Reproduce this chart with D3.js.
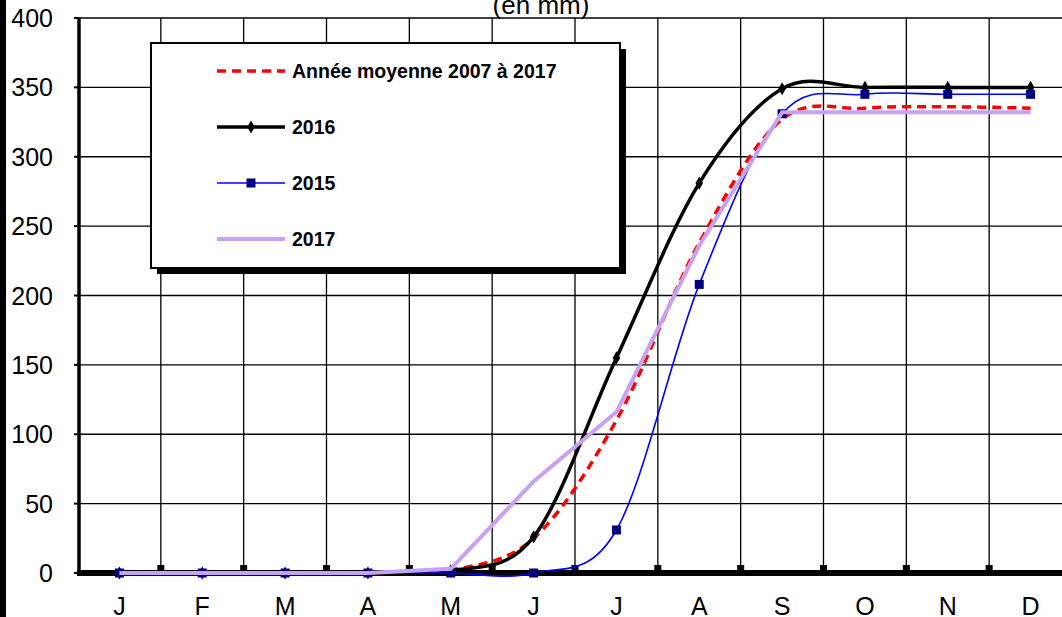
<!DOCTYPE html>
<html>
<head>
<meta charset="utf-8">
<script src="https://cdn.jsdelivr.net/npm/d3@7"></script>
<style>
body { margin: 0; background: #fff; }
svg { display: block; font-family: "Liberation Sans", Arial, sans-serif; }
</style>
</head>
<body>
<div id="chart"></div>
<script>
// valeurs (cumul en mm)
var mois = ["J", "F", "M", "A", "M", "J", "J", "A", "S", "O", "N", "D"];
var moyenne = [0, 0, 0, 0, 2, 25, 110, 238, 327, 335, 336, 335];
var annee2016 = [0, 0, 0, 0, 1.5, 26, 155, 281, 349, 350, 350, 350];
var annee2015 = [0, 0, 0, 0, 0, 0, 31, 208, 331, 345, 345, 345];
var annee2017 = [0, 0, 0, 0, 3, 66, 116, 236, 332, 332, 332, 332];
var yTicks = [0, 50, 100, 150, 200, 250, 300, 350, 400];
var legendLabels = ["Année moyenne 2007 à 2017", "2016", "2015", "2017"];

var width = 1062, height = 617;

var svg = d3.select("#chart").append("svg")
    .attr("width", width)
    .attr("height", height);

var x = d3.scaleBand().domain(d3.range(mois.length)).range([78, 1072]);
var y = d3.scaleLinear().domain([0, 400]).range([573, 18]);
var cx = function(i) { return x(i) + x.bandwidth() / 2; };

// barre noire a gauche
svg.append("rect").attr("x", 0).attr("y", 0).attr("width", 6).attr("height", height).attr("fill", "#000");

// titre coupe en haut
svg.append("text")
    .attr("x", 541).attr("y", 14)
    .attr("text-anchor", "middle")
    .attr("font-size", "26px")
    .text("(en mm)");

// grille
var grid = svg.append("g");
grid.selectAll("line.h")
    .data(yTicks.filter(function(d) { return d > 0; }))
    .enter().append("line")
    .attr("x1", 78).attr("x2", width)
    .attr("y1", function(d) { return y(d); })
    .attr("y2", function(d) { return y(d); })
    .attr("stroke", "#000").attr("stroke-width", 1.3);
grid.selectAll("line.v")
    .data(d3.range(1, mois.length))
    .enter().append("line")
    .attr("x1", function(i) { return x(i); })
    .attr("x2", function(i) { return x(i); })
    .attr("y1", y(400)).attr("y2", y(0))
    .attr("stroke", "#000").attr("stroke-width", 1.3);

// petits traits de graduation
grid.selectAll("rect.tx")
    .data(d3.range(1, mois.length))
    .enter().append("rect")
    .attr("x", function(i) { return x(i) - 3.5; })
    .attr("y", y(0) - 8)
    .attr("width", 7).attr("height", 6)
    .attr("fill", "#000");
grid.selectAll("line.ty")
    .data(yTicks)
    .enter().append("line")
    .attr("x1", 74).attr("x2", 79)
    .attr("y1", function(d) { return y(d); })
    .attr("y2", function(d) { return y(d); })
    .attr("stroke", "#000").attr("stroke-width", 2);

// axes
svg.append("line").attr("x1", 79).attr("x2", 79).attr("y1", y(400)).attr("y2", y(0) + 3)
    .attr("stroke", "#000").attr("stroke-width", 3.5);
svg.append("line").attr("x1", 77).attr("x2", width).attr("y1", y(0)).attr("y2", y(0))
    .attr("stroke", "#000").attr("stroke-width", 6);

// libelles
svg.append("g").selectAll("text")
    .data(yTicks)
    .enter().append("text")
    .attr("x", 53)
    .attr("y", function(d) { return y(d); })
    .attr("dy", "0.36em")
    .attr("text-anchor", "end")
    .attr("font-size", "25px")
    .text(function(d) { return d; });
svg.append("g").selectAll("text")
    .data(mois)
    .enter().append("text")
    .attr("x", function(d, i) { return cx(i); })
    .attr("y", 615)
    .attr("text-anchor", "middle")
    .attr("font-size", "25px")
    .text(function(d) { return d; });

// courbes
var lisse = d3.line()
    .x(function(d, i) { return cx(i); })
    .y(function(d) { return y(d); })
    .curve(d3.curveCardinal.tension(0));
var droit = d3.line()
    .x(function(d, i) { return cx(i); })
    .y(function(d) { return y(d); });

svg.append("path").attr("d", lisse(moyenne))
    .attr("fill", "none").attr("stroke", "#ff0000").attr("stroke-width", 3.5)
    .attr("stroke-dasharray", "9,6");

svg.append("path").attr("d", lisse(annee2016))
    .attr("fill", "none").attr("stroke", "#000").attr("stroke-width", 3.5);
var losange = d3.symbol().type(d3.symbolDiamond).size(50);
svg.append("g").selectAll("path")
    .data(annee2016)
    .enter().append("path")
    .attr("d", losange)
    .attr("transform", function(d, i) { return "translate(" + cx(i) + "," + y(d) + ")"; })
    .attr("fill", "#000");

svg.append("path").attr("d", lisse(annee2015))
    .attr("fill", "none").attr("stroke", "#0000ff").attr("stroke-width", 1.6);
svg.append("g").selectAll("rect")
    .data(annee2015)
    .enter().append("rect")
    .attr("x", function(d, i) { return cx(i) - 4.5; })
    .attr("y", function(d) { return y(d) - 4.5; })
    .attr("width", 9).attr("height", 9)
    .attr("fill", "#000080");

svg.append("path").attr("d", droit(annee2017))
    .attr("fill", "none").attr("stroke", "#c8a2f2").attr("stroke-width", 4);

// legende
var lg = svg.append("g");
lg.append("rect").attr("x", 157).attr("y", 49).attr("width", 469).attr("height", 225).attr("fill", "#000");
lg.append("rect").attr("x", 151).attr("y", 43).attr("width", 469).attr("height", 225)
    .attr("fill", "#fff").attr("stroke", "#000").attr("stroke-width", 2);

var rows = [71, 127, 183, 239];
var styles = [
    { c: "#ff0000", w: 3.5, dash: "9,6" },
    { c: "#000", w: 3.5, dash: null },
    { c: "#0000ff", w: 1.6, dash: null },
    { c: "#c8a2f2", w: 4, dash: null }
];
legendLabels.forEach(function(lab, k) {
    lg.append("line")
        .attr("x1", 217).attr("x2", 285)
        .attr("y1", rows[k]).attr("y2", rows[k])
        .attr("stroke", styles[k].c).attr("stroke-width", styles[k].w)
        .attr("stroke-dasharray", styles[k].dash);
    lg.append("text")
        .attr("x", 292).attr("y", rows[k] + 7)
        .attr("font-size", "19.5px").attr("font-weight", "bold")
        .text(lab);
});
lg.append("path").attr("d", losange)
    .attr("transform", "translate(251," + rows[1] + ")").attr("fill", "#000");
lg.append("rect").attr("x", 246.5).attr("y", rows[2] - 4.5).attr("width", 9).attr("height", 9)
    .attr("fill", "#000080");
</script>
</body>
</html>
